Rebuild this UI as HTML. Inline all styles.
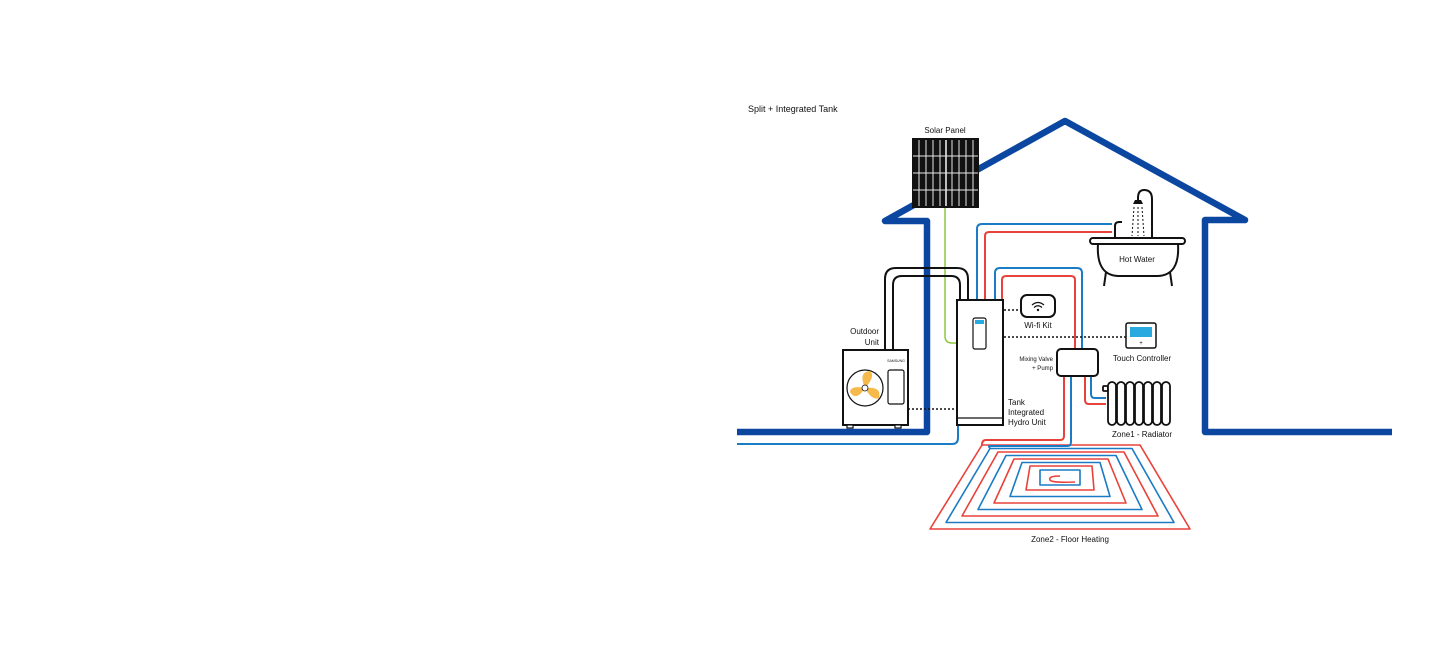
<!DOCTYPE html>
<html><head><meta charset="utf-8"><style>
html,body{margin:0;padding:0;background:#fff;}
svg{display:block}
text{font-family:"Liberation Sans",sans-serif;fill:#111;}
</style></head><body>
<svg width="1440" height="645" viewBox="0 0 1440 645" xmlns="http://www.w3.org/2000/svg">
<polyline points="737,432 927,432 927,221 885,221 1065,121 1245,220 1205,220 1205,432 1392,432" fill="none" stroke="#0b47a1" stroke-width="6.5" stroke-linejoin="round"/>
<path d="M737,444 H952 Q958,444 958,438 V425" fill="none" stroke="#1b7bc4" stroke-width="2"/>
<g fill="none" stroke-width="1.6" stroke-linejoin="round">
<polygon points="982,445 1140,445 1190,529 930,529" stroke="#e8423a"/>
<polygon points="990,448.5 1132,448.5 1174,522.5 946,522.5" stroke="#1b7bc4"/>
<polygon points="998,452 1124,452 1158,516 962,516" stroke="#e8423a"/>
<polygon points="1006,455.5 1116,455.5 1142,509.5 978,509.5" stroke="#1b7bc4"/>
<polygon points="1014,459 1108,459 1126,503 994,503" stroke="#e8423a"/>
<polygon points="1022,462.5 1100,462.5 1110,496.5 1010,496.5" stroke="#1b7bc4"/>
<polygon points="1030,466 1092,466 1094,490 1026,490" stroke="#e8423a"/>
<path d="M1040,470 H1080 V485 H1040 Z" stroke="#1b7bc4"/>
<path d="M1060,476 Q1048,476 1050,480 Q1052,483 1075,482" stroke="#e8423a"/>
</g>
<path d="M1064,376 V436 Q1064,440 1060,440 H986 Q982,440 982,445" fill="none" stroke="#e8423a" stroke-width="2"/>
<path d="M1071,376 V442 Q1071,446 1067,446 H990 Q988,446 990,448" fill="none" stroke="#1b7bc4" stroke-width="2"/>
<path d="M1085,376 V400 Q1085,404 1089,404 H1106" fill="none" stroke="#e8423a" stroke-width="2"/>
<path d="M1091,376 V394 Q1091,398 1095,398 H1106" fill="none" stroke="#1b7bc4" stroke-width="2"/>
<path d="M977,300 V229 Q977,224 982,224 H1112" fill="none" stroke="#1b7bc4" stroke-width="2"/>
<path d="M985,300 V236 Q985,232 989,232 H1112" fill="none" stroke="#e8423a" stroke-width="2"/>
<path d="M995,300 V273 Q995,268 1000,268 H1077 Q1082,268 1082,273 V349" fill="none" stroke="#1b7bc4" stroke-width="2"/>
<path d="M1002,300 V280 Q1002,276 1006,276 H1071 Q1075,276 1075,280 V349" fill="none" stroke="#e8423a" stroke-width="2"/>
<path d="M945,208 V336 Q945,343 952,343 H958" fill="none" stroke="#8dc63f" stroke-width="1.5"/>
<rect x="912" y="138" width="67" height="70" fill="#111"/>
<g stroke="#e8e8e8" stroke-width="1">
<line x1="919" y1="140" x2="919" y2="206"/><line x1="926" y1="140" x2="926" y2="206"/><line x1="933" y1="140" x2="933" y2="206"/><line x1="940" y1="140" x2="940" y2="206"/><line x1="946" y1="140" x2="946" y2="206" stroke-width="1.6"/><line x1="952" y1="140" x2="952" y2="206"/><line x1="959" y1="140" x2="959" y2="206"/><line x1="966" y1="140" x2="966" y2="206"/><line x1="973" y1="140" x2="973" y2="206"/>
<line x1="913" y1="156" x2="978" y2="156"/><line x1="913" y1="173" x2="978" y2="173"/><line x1="913" y1="190" x2="978" y2="190"/>
</g>
<path d="M885,350 V279 Q885,268 896,268 H957 Q968,268 968,279 V300" fill="none" stroke="#111" stroke-width="2"/>
<path d="M893,350 V285 Q893,276 902,276 H951 Q960,276 960,285 V300" fill="none" stroke="#111" stroke-width="2"/>
<rect x="843" y="350" width="65" height="75" fill="#fff" stroke="#111" stroke-width="2"/>
<rect x="847" y="425" width="6" height="3" fill="#fff" stroke="#111" stroke-width="1.2"/>
<rect x="895" y="425" width="6" height="3" fill="#fff" stroke="#111" stroke-width="1.2"/>
<circle cx="865" cy="388" r="18" fill="#fff" stroke="#111" stroke-width="1.2"/>
<g fill="#f6b94c">
<path d="M865,388 Q858,372 870,371 Q876,376 865,388Z"/>
<path d="M865,388 Q882,386 879,398 Q872,401 865,388Z"/>
<path d="M865,388 Q856,402 850,392 Q851,385 865,388Z"/>
</g>
<circle cx="865" cy="388" r="3" fill="#fff" stroke="#111" stroke-width="0.8"/>
<rect x="888" y="370" width="16" height="34" rx="2" fill="#fff" stroke="#111" stroke-width="1.2"/>
<text x="896" y="362" font-size="3.5" fill="#1b5fb4" text-anchor="middle">SAMSUNG</text>
<g stroke="#111" stroke-width="1.5" stroke-dasharray="2,2">
<line x1="908" y1="409" x2="957" y2="409"/>
<line x1="1004" y1="310" x2="1021" y2="310"/>
<line x1="1004" y1="337" x2="1126" y2="337"/>
</g>
<rect x="957" y="300" width="46" height="125" fill="#fff" stroke="#111" stroke-width="2"/>
<line x1="957" y1="418" x2="1003" y2="418" stroke="#111" stroke-width="1.2"/>
<rect x="973" y="318" width="13" height="31" rx="2" fill="#fff" stroke="#111" stroke-width="1.2"/>
<rect x="975" y="320" width="9" height="4" fill="#2aa8e0"/>
<rect x="1021" y="295" width="34" height="22" rx="6" fill="#fff" stroke="#111" stroke-width="2"/>
<path d="M1032,305 Q1038,300 1044,305 M1034,307.5 Q1038,304 1042,307.5" fill="none" stroke="#111" stroke-width="1.2"/>
<circle cx="1038" cy="310" r="1.2" fill="#111"/>
<rect x="1126" y="323" width="30" height="25" rx="2" fill="#fff" stroke="#111" stroke-width="1.5"/>
<rect x="1130" y="327" width="22" height="10" fill="#2aa8e0"/>
<text x="1141" y="345" font-size="6" fill="#f6a623" text-anchor="middle">+</text>
<rect x="1057" y="349" width="41" height="27" rx="4" fill="#fff" stroke="#111" stroke-width="2"/>
<g fill="#fff" stroke="#111" stroke-width="1.8">
<rect x="1103" y="386" width="5" height="5" rx="1"/>
<rect x="1108" y="382" width="8" height="43" rx="4"/><rect x="1117" y="382" width="8" height="43" rx="4"/><rect x="1126" y="382" width="8" height="43" rx="4"/><rect x="1135" y="382" width="8" height="43" rx="4"/><rect x="1144" y="382" width="8" height="43" rx="4"/><rect x="1153" y="382" width="8" height="43" rx="4"/><rect x="1162" y="382" width="8" height="43" rx="4"/>
</g>
<g fill="none" stroke="#111" stroke-width="2">
<path d="M1152,238 V199 Q1152,190 1144,190 Q1138,190 1138,198 V202"/>
<rect x="1090" y="238" width="95" height="6" rx="3" fill="#fff"/>
<path d="M1098,244 Q1096,275 1118,276 H1158 Q1180,275 1178,244"/>
<path d="M1106,272 L1104,286 M1170,272 L1172,286"/>
<path d="M1115,238 V226 Q1115,222 1119,222 H1122"/>
</g>
<path d="M1133,204 H1143 L1141,200 H1135 Z" fill="#111"/>
<g stroke="#111" stroke-width="1" stroke-dasharray="2,2">
<line x1="1134" y1="207" x2="1132" y2="236"/><line x1="1138" y1="207" x2="1138" y2="236"/><line x1="1142" y1="207" x2="1144" y2="236"/>
</g>
<text x="748" y="112" font-size="9">Split + Integrated Tank</text>
<text x="945" y="133" font-size="8" text-anchor="middle">Solar Panel</text>
<text x="879" y="334" font-size="8" text-anchor="end">Outdoor</text>
<text x="879" y="345" font-size="8" text-anchor="end">Unit</text>
<text x="1008" y="405" font-size="8">Tank</text>
<text x="1008" y="415" font-size="8">Integrated</text>
<text x="1008" y="425" font-size="8">Hydro Unit</text>
<text x="1038" y="328" font-size="8" text-anchor="middle">Wi-fi Kit</text>
<text x="1142" y="361" font-size="8" text-anchor="middle">Touch Controller</text>
<text x="1053" y="361" font-size="6" text-anchor="end">Mixing Valve</text>
<text x="1053" y="370" font-size="6" text-anchor="end">+ Pump</text>
<text x="1137" y="262" font-size="8" text-anchor="middle">Hot Water</text>
<text x="1142" y="437" font-size="8" text-anchor="middle">Zone1 - Radiator</text>
<text x="1070" y="542" font-size="8" text-anchor="middle">Zone2 - Floor Heating</text>
</svg>
</body></html>
